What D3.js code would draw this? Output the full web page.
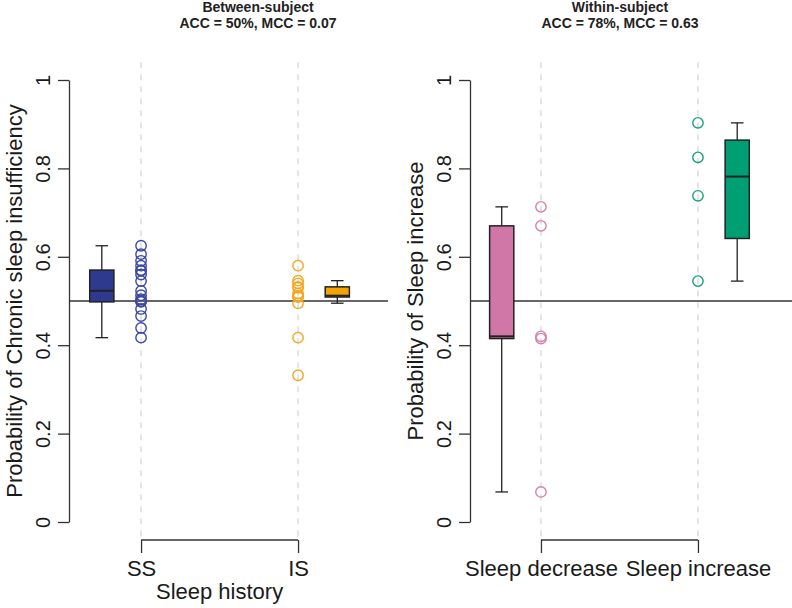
<!DOCTYPE html>
<html>
<head>
<meta charset="utf-8">
<script src="https://cdn.jsdelivr.net/npm/d3@7"></script>
<style>
  body { margin: 0; background: #fff; }
  text { font-family: "Liberation Sans", Arial, Helvetica, sans-serif; fill: #1a1a1a; }
</style>
</head>
<body>
<svg id="chart" width="792" height="608"></svg>
<script>
// values
var betweenGroups = ["SS", "IS"];
var ssValues = [0.625, 0.606, 0.591, 0.580, 0.570, 0.568, 0.560, 0.545, 0.523,
                0.513, 0.504, 0.500, 0.498, 0.482, 0.466, 0.439, 0.417];
var isValues = [0.580, 0.546, 0.540, 0.532, 0.530, 0.517, 0.512, 0.511, 0.510,
                0.509, 0.495, 0.417, 0.332];

var withinGroups = ["Sleep decrease", "Sleep increase"];
var decreaseValues = [0.713, 0.670, 0.420, 0.415, 0.068];
var increaseValues = [0.903, 0.825, 0.738, 0.545];

var yTicks = [0, 0.2, 0.4, 0.6, 0.8, 1];
var yTickLabels = ["0", "0.2", "0.4", "0.6", "0.8", "1"];

var titles = [["Between-subject", "ACC = 50%, MCC = 0.07"],
              ["Within-subject", "ACC = 78%, MCC = 0.63"]];
var yLabels = ["Probability of Chronic sleep insufficiency", "Probability of Sleep increase"];
var xTitles = ["Sleep history", ""];

var svg = d3.select("#chart");

var panels = [
  { cats: betweenGroups, vals: [ssValues, isValues], title: titles[0], ylab: yLabels[0], xlab: xTitles[0],
    left: 69, right: 388, xdom: [0.541, 2.573], titleX: 258,
    boxFill: ["#2d3a8f", "#f5a300"], ptCol: ["#3a48a3", "#f5a623"] },
  { cats: withinGroups, vals: [decreaseValues, increaseValues], title: titles[1], ylab: yLabels[1], xlab: xTitles[1],
    left: 470, right: 792, xdom: [0.548, 2.599], titleX: 620,
    boxFill: ["#d077a7", "#009e73"], ptCol: ["#d47fae", "#14a078"] }
];

// same y scale for both plots
var y = d3.scaleLinear().domain([0, 1]).range([522, 80]);

// R style boxplot numbers: tukey hinges + 1.5 IQR whiskers
function boxStats(vals){
  var s = vals.slice().sort(d3.ascending);
  var n = s.length;
  var half = Math.floor((n + 1) / 2);
  var lowerHalf = s.slice(0, half);
  var upperHalf = s.slice(n - half);
  var q1 = d3.median(lowerHalf), q3 = d3.median(upperHalf), med = d3.median(s);
  var iqr = q3 - q1;
  var lo = d3.min(s.filter(function(v){ return v >= q1 - 1.5 * iqr; }));
  var hi = d3.max(s.filter(function(v){ return v <= q3 + 1.5 * iqr; }));
  return {q1: q1, q3: q3, med: med, lo: lo, hi: hi};
}

panels.forEach(function(p){
  var g = svg.append("g");
  var x = d3.scaleLinear().domain(p.xdom).range([p.left, p.right]);
  var pos = [1, 2];

  // light dashed guides through the point columns
  g.selectAll("line.guide").data(pos).enter().append("line")
    .attr("x1", function(d){ return x(d); }).attr("x2", function(d){ return x(d); })
    .attr("y1", y(1.04)).attr("y2", y(-0.04))
    .attr("stroke", "#d4d4d4").attr("stroke-width", 1.2).attr("stroke-dasharray", "6,6");

  // chance line
  g.append("line")
    .attr("x1", p.left).attr("x2", p.right)
    .attr("y1", y(0.5)).attr("y2", y(0.5))
    .attr("stroke", "#333").attr("stroke-width", 1.3);

  // y axis
  var yAxis = g.append("g")
    .attr("transform", "translate(" + p.left + ",0)")
    .call(d3.axisLeft(y).tickValues(yTicks).tickSize(11).tickSizeOuter(0)
      .tickFormat(function(d, i){ return yTickLabels[i]; }));
  yAxis.select(".domain").attr("stroke", "#333").attr("stroke-width", 1.3);
  yAxis.selectAll(".tick line").attr("stroke", "#333").attr("stroke-width", 1.3);
  yAxis.selectAll(".tick text")
    .attr("x", null).attr("dy", null)
    .attr("transform", "translate(-19,0) rotate(-90)")
    .attr("text-anchor", "middle")
    .style("font-size", "20px").style("font-family", "Liberation Sans, Arial, sans-serif");

  g.append("text")
    .attr("transform", "translate(" + (p.left - 47) + "," + y(0.5) + ") rotate(-90)")
    .attr("text-anchor", "middle")
    .style("font-size", "22px")
    .text(p.ylab);

  // x axis, R style bracket from first to last category
  var xAxis = g.append("g")
    .attr("transform", "translate(0,540)")
    .call(d3.axisBottom(x).tickValues(pos).tickSize(13)
      .tickFormat(function(d, i){ return p.cats[i]; }));
  xAxis.select(".domain").remove();
  xAxis.append("line")
    .attr("x1", x(1)).attr("x2", x(2)).attr("y1", 0).attr("y2", 0)
    .attr("stroke", "#333").attr("stroke-width", 1.3);
  xAxis.selectAll(".tick line").attr("stroke", "#333").attr("stroke-width", 1.3);
  xAxis.selectAll(".tick text")
    .attr("y", 36).attr("dy", null)
    .style("font-size", "22px").style("font-family", "Liberation Sans, Arial, sans-serif")
    .style("fill", "#1a1a1a");

  if (p.xlab) {
    g.append("text")
      .attr("x", (x(1) + x(2)) / 2).attr("y", 599)
      .attr("text-anchor", "middle")
      .style("font-size", "22px")
      .text(p.xlab);
  }

  // titles
  g.selectAll("text.title").data(p.title).enter().append("text")
    .attr("x", p.titleX).attr("y", function(d, i){ return 12 + i * 16; })
    .attr("text-anchor", "middle")
    .style("font-size", "14px").style("font-weight", "bold").style("fill", "#222")
    .text(function(d){ return d; });

  // boxes: first group left of its points, second group right
  var offsets = [-0.25, 0.25];
  var halfW = 0.077, capW = 0.04;
  p.vals.forEach(function(vals, i){
    var st = boxStats(vals);
    var c = pos[i] + offsets[i];
    var bg = g.append("g");
    bg.append("line")
      .attr("x1", x(c)).attr("x2", x(c)).attr("y1", y(st.hi)).attr("y2", y(st.q3))
      .attr("stroke", "#222").attr("stroke-width", 1.3);
    bg.append("line")
      .attr("x1", x(c)).attr("x2", x(c)).attr("y1", y(st.q1)).attr("y2", y(st.lo))
      .attr("stroke", "#222").attr("stroke-width", 1.3);
    [st.hi, st.lo].forEach(function(v){
      bg.append("line")
        .attr("x1", x(c - capW)).attr("x2", x(c + capW)).attr("y1", y(v)).attr("y2", y(v))
        .attr("stroke", "#222").attr("stroke-width", 1.3);
    });
    bg.append("rect")
      .attr("x", x(c - halfW)).attr("width", x(c + halfW) - x(c - halfW))
      .attr("y", y(st.q3)).attr("height", y(st.q1) - y(st.q3))
      .attr("fill", p.boxFill[i]).attr("stroke", "#222").attr("stroke-width", 1.5);
    bg.append("line")
      .attr("x1", x(c - halfW)).attr("x2", x(c + halfW)).attr("y1", y(st.med)).attr("y2", y(st.med))
      .attr("stroke", "#222").attr("stroke-width", 2);

    // raw points
    g.selectAll("circle.g" + i).data(vals).enter().append("circle")
      .attr("cx", x(pos[i])).attr("cy", function(d){ return y(d); })
      .attr("r", 5.2)
      .attr("fill", "none").attr("stroke", p.ptCol[i]).attr("stroke-width", 1.4);
  });
});
</script>
</body>
</html>
